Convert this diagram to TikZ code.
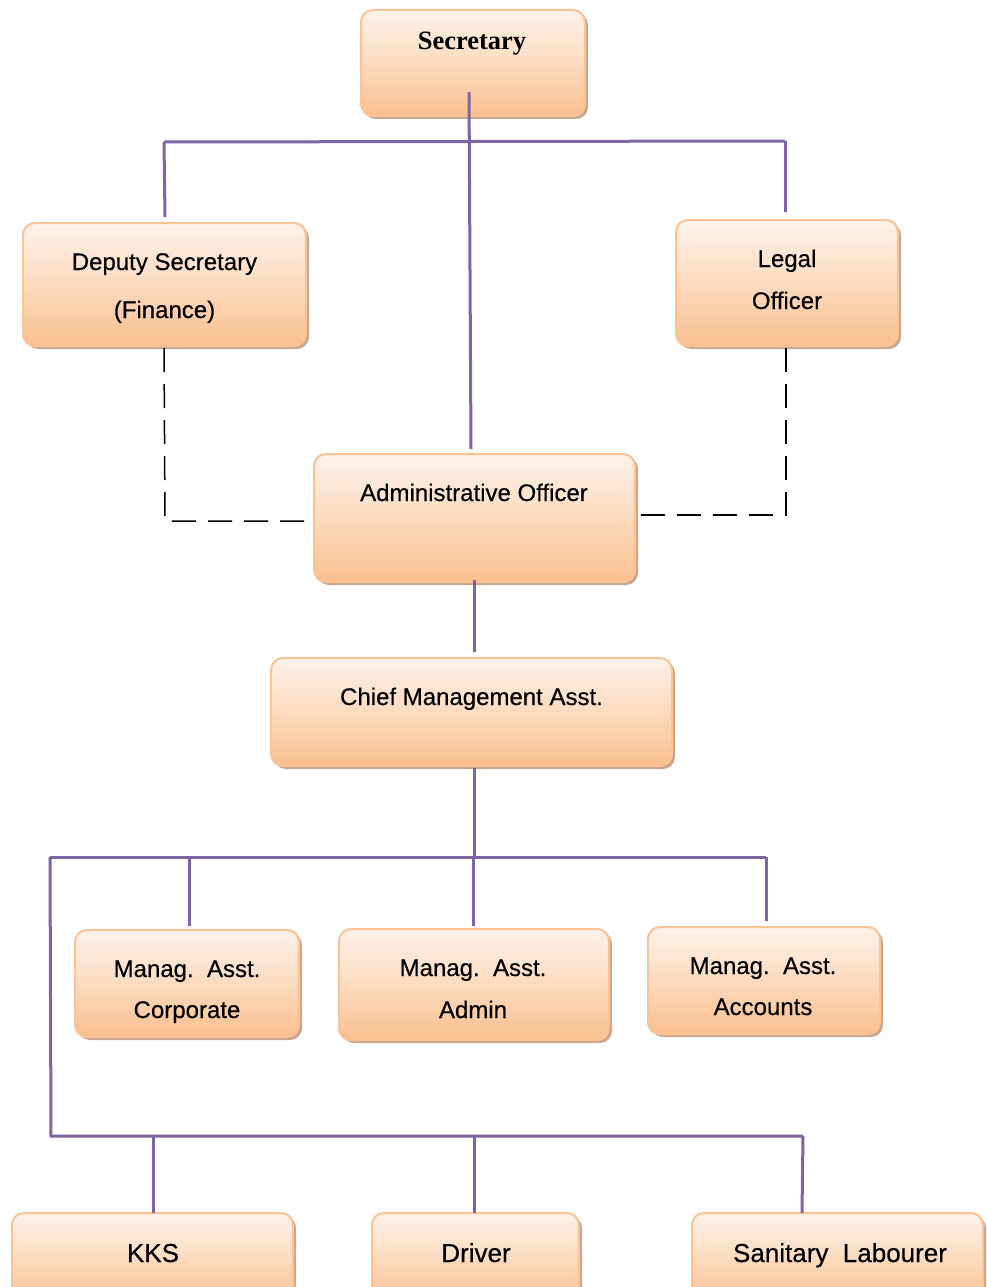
\documentclass[tikz,border=0pt]{standalone}
\usepackage{fontspec}
\setmainfont[FakeBold=0.5]{Liberation Sans}
\newfontfamily\armf[FakeBold=0.35]{Liberation Sans}
\newfontfamily\timesf{Liberation Serif}
\usetikzlibrary{shadows}
\definecolor{boxtop}{HTML}{FEF2E8}
\definecolor{boxbot}{HTML}{F9BF8E}
\definecolor{boxedge}{HTML}{F9C396}
\definecolor{shad}{HTML}{C9A68C}
\definecolor{purp}{HTML}{8064A2}
\tikzset{
  orgbox/.style={draw=boxedge, line width=2pt, rounded corners=12pt,
    top color=boxtop, bottom color=boxbot, middle color=boxtop!55!boxbot,
    drop shadow={shadow xshift=3pt, shadow yshift=-3pt, fill=shad, opacity=1},
    inner sep=0pt},
  lbl/.style={font=\armf\fontsize{24}{28}\selectfont, inner sep=0pt, anchor=base},
  lblbig/.style={font=\armf\fontsize{26}{30}\selectfont, inner sep=0pt, anchor=base},
  plink/.style={draw=purp, line width=3pt},
  dlink/.style={draw=black, line width=1.5pt, dash pattern=on 24pt off 12pt}
}
\begin{document}
\begin{tikzpicture}[x=1pt,y=-1pt]
\useasboundingbox (0,0) rectangle (986,1287);
% boxes
\node[orgbox, minimum width=224pt, minimum height=106pt] (sec) at (473,63) {};
\node[orgbox, minimum width=283pt, minimum height=123pt] (dep) at (164.5,284.5) {};
\node[orgbox, minimum width=222pt, minimum height=126pt] (leg) at (787,283) {};
\node[orgbox, minimum width=321pt, minimum height=128pt] (adm) at (474.5,518) {};
\node[orgbox, minimum width=401pt, minimum height=108pt] (chf) at (471.5,712) {};
\node[orgbox, minimum width=224pt, minimum height=107pt] (mac) at (187,983.5) {};
\node[orgbox, minimum width=270pt, minimum height=111pt] (maa) at (474,984.5) {};
\node[orgbox, minimum width=232pt, minimum height=107pt] (macc) at (764,980.5) {};
\node[orgbox, minimum width=281pt, minimum height=90pt] (kks) at (152.5,1258) {};
\node[orgbox, minimum width=207pt, minimum height=90pt] (drv) at (475.5,1258) {};
\node[orgbox, minimum width=291pt, minimum height=90pt] (san) at (837.5,1258) {};
% labels
\node[inner sep=0pt, anchor=base, font=\timesf\bfseries\fontsize{26.5}{30}\selectfont] (tsec) at (472,50) {Secretary};
\node[lbl] (tdep1) at (164.5,270) {Deputy Secretary};
\node[lbl] (tdep2) at (164.5,318) {(Finance)};
\node[lbl] (tleg1) at (787,267) {Legal};
\node[lbl] (tleg2) at (787,309) {Officer};
\node[lbl] (tadm) at (474,501) {Administrative Officer};
\node[lbl] (tchf) at (471.5,705) {Chief Management Asst.};
\node[lbl] (tmac1) at (187,977) {Manag.\ \ Asst.};
\node[lbl] (tmac2) at (187,1018) {Corporate};
\node[lbl] (tmaa1) at (473,976) {Manag.\ \ Asst.};
\node[lbl] (tmaa2) at (473,1018) {Admin};
\node[lbl] (tmacc1) at (763,974) {Manag.\ \ Asst.};
\node[lbl] (tmacc2) at (763,1015) {Accounts};
\node[lblbig] (tkks) at (153,1262) {KKS};
\node[lblbig] (tdrv) at (476,1262) {Driver};
\node[lblbig] (tsan) at (840,1262) {Sanitary\ \ Labourer};
% coordinates for connectors
\coordinate (s0) at (469,92);
\coordinate (s1) at (471,449);
\coordinate (hL) at (164,142);
\coordinate (hR) at (785,141);
\coordinate (dL) at (165,217);
\coordinate (dR) at (785,212);
\coordinate (a0) at (474,580);
\coordinate (a1) at (474,652);
\coordinate (c0) at (474,768);
\coordinate (c1) at (474,857);
\coordinate (m0) at (50,857);
\coordinate (m1) at (766,857);
\coordinate (m2) at (189,926);
\coordinate (m3) at (473,926);
\coordinate (m4) at (766,921);
\coordinate (b0) at (51,1136);
\coordinate (b1) at (803,1136);
\coordinate (k1) at (153,1213);
\coordinate (k2) at (474,1213);
\coordinate (k3) at (802,1213);
\coordinate (dd0) at (164,348);
\coordinate (dd1) at (165,521);
\coordinate (dd2) at (306,521);
\coordinate (ld0) at (786,348);
\coordinate (ld1) at (786,515);
\coordinate (ld2) at (638,515);
% purple connectors
\draw[plink] (s0) -- (s1);
\draw[plink] (hL) -- (hR);
\draw[plink] (hL) -- (dL);
\draw[plink] (hR) -- (dR);
\draw[plink] (a0) -- (a1);
\draw[plink] (c0) -- (c1);
\draw[plink] (m0) -- (m1);
\draw[plink] (m2 |- m0) -- (m2);
\draw[plink] (m3 |- m0) -- (m3);
\draw[plink] (m1) -- (m4);
\draw[plink] (m0) -- (b0) -- (b1);
\draw[plink] (k1 |- b0) -- (k1);
\draw[plink] (k2 |- b0) -- (k2);
\draw[plink] (b1) -- (k3);
% dashed connectors
\draw[dlink] (dd0) -- (dd1) -- (dd2);
\draw[dlink] (ld0) -- (ld1) -- (ld2);
\end{tikzpicture}
\end{document}
